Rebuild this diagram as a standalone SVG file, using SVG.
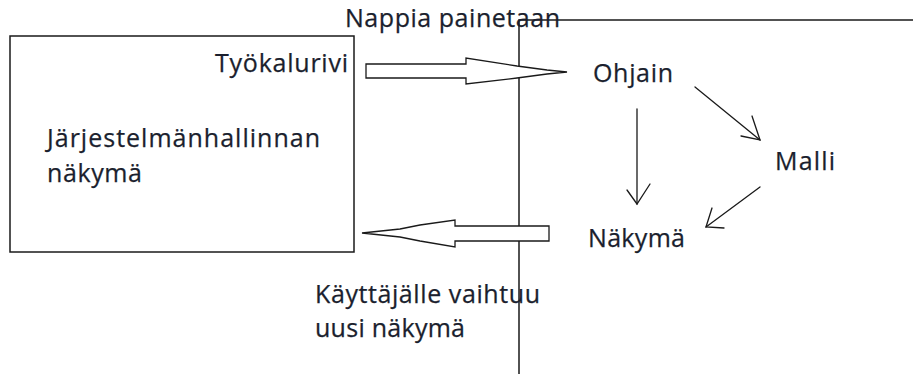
<svg xmlns="http://www.w3.org/2000/svg" width="913" height="374" viewBox="0 0 913 374">
  <style>
    .frame { fill: none; stroke: #1a1a1a; stroke-width: 1.5; }
    .label { font-family: "Open Sans", "Noto Sans", sans-serif; font-size: 25px; fill: #1b1f2e; stroke: #1b1f2e; stroke-width: 0.25; }
    .big { fill: #ffffff; stroke: #1a1a1a; stroke-width: 1.3; stroke-linejoin: miter; }
    .thin { fill: none; stroke: #1a1a1a; stroke-width: 1.3; stroke-linecap: round; }
  </style>
  <rect width="913" height="374" fill="#ffffff"/>

  <!-- Left panel: system management view -->
  <g id="system-view">
    <rect class="frame" x="10" y="36" width="344" height="216"/>
    <text class="label" x="215" y="72" textLength="133" lengthAdjust="spacing">Työkalurivi</text>
    <text class="label" x="47" y="147" textLength="273" lengthAdjust="spacing">Järjestelmänhallinnan</text>
    <text class="label" x="47" y="182" textLength="95" lengthAdjust="spacing">näkymä</text>
  </g>

  <!-- Right panel: MVC area -->
  <g id="mvc-area">
    <polyline class="frame" points="519,374 519,20 913,20"/>
  </g>

  <g id="ohjain">
    <text class="label" x="593" y="82" textLength="80" lengthAdjust="spacing">Ohjain</text>
  </g>
  <g id="malli">
    <text class="label" x="775" y="170" textLength="60" lengthAdjust="spacing">Malli</text>
  </g>
  <g id="nakyma">
    <text class="label" x="588" y="247" textLength="97" lengthAdjust="spacing">Näkymä</text>
  </g>

  <!-- Free labels -->
  <g id="button-label">
    <text class="label" x="345" y="27" textLength="215" lengthAdjust="spacing">Nappia painetaan</text>
  </g>
  <g id="result-label">
    <text class="label" x="315" y="303" textLength="225" lengthAdjust="spacing">Käyttäjälle vaihtuu</text>
    <text class="label" x="315" y="337" textLength="150" lengthAdjust="spacing">uusi näkymä</text>
  </g>

  <!-- Connectors -->
  <g id="connectors">
    <!-- block arrow: toolbar to controller -->
    <polygon class="big" points="366,64 466,64 466,58 517,66 547,70 567,72 547,74 517,78 466,84 466,78 366,78"/>
    <!-- block arrow: view back to system view -->
    <polygon class="big" points="549,226 455,226 455,220 420,225 400,229 362,233 400,237 420,241 455,247 455,241 549,241"/>

    <!-- controller to view -->
    <line class="thin" x1="637" y1="109" x2="637" y2="204"/>
    <polyline class="thin" points="627,190 637,204 650,184"/>
    <!-- controller to model -->
    <line class="thin" x1="695" y1="87" x2="760" y2="140"/>
    <polyline class="thin" points="752,116 760,140 741,136"/>
    <!-- model to view -->
    <line class="thin" x1="760" y1="187" x2="706" y2="227"/>
    <polyline class="thin" points="712,208 706,227 724,228"/>
  </g>
</svg>
